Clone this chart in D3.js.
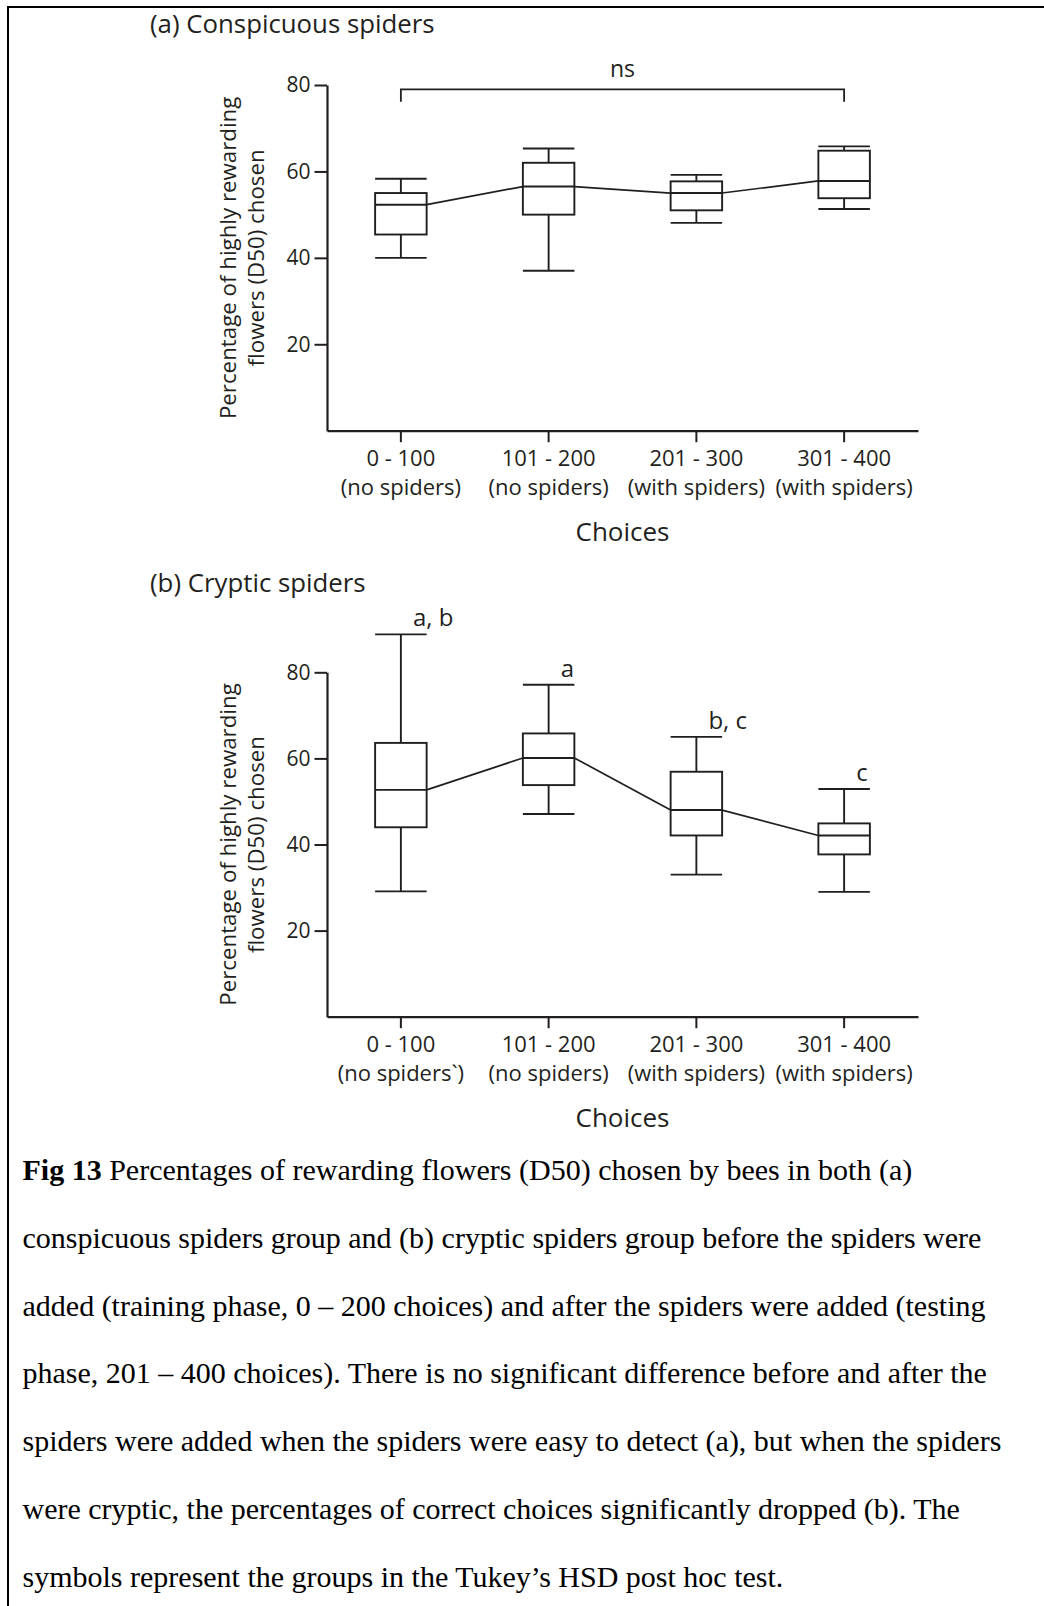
<!DOCTYPE html>
<html>
<head>
<meta charset="utf-8">
<script src="https://cdn.jsdelivr.net/npm/d3@7"></script>
<style>
  html, body { margin: 0; padding: 0; background: #fff; }
  svg { display: block; }
  .lbl { font-family: "Open Sans", "Noto Sans", sans-serif; fill: #231f20; }
  .cap { font-family: "Liberation Serif", "Times New Roman", serif; fill: #000; font-size: 30px; }
</style>
</head>
<body>
<svg id="fig" width="1044" height="1606"></svg>
<script>
// Choice blocks on the x axis
const categories = ["0 - 100", "101 - 200", "201 - 300", "301 - 400"];
const phaseLabelsA = ["(no spiders)", "(no spiders)", "(with spiders)", "(with spiders)"];
const phaseLabelsB = ["(no spiders`)", "(no spiders)", "(with spiders)", "(with spiders)"];
const yTicks = [20, 40, 60, 80];

// (a) Conspicuous spiders: box-plot summaries (% D50 chosen)
const consLow    = [40.0, 37.0, 48.1, 51.3];
const consQ1     = [45.4, 50.0, 51.0, 53.8];
const consMedian = [52.3, 56.5, 55.0, 57.8];
const consQ3     = [55.0, 62.0, 57.7, 64.8];
const consHigh   = [58.3, 65.3, 59.2, 65.8];

// (b) Cryptic spiders: box-plot summaries (% D50 chosen)
const crypLow    = [29.1, 47.1, 33.0, 29.0];
const crypQ1     = [44.0, 53.8, 42.1, 37.7];
const crypMedian = [52.7, 60.1, 48.0, 42.1];
const crypQ3     = [63.6, 65.8, 56.9, 44.9];
const crypHigh   = [88.8, 77.1, 65.0, 52.9];
const crypGroups = ["a, b", "a", "b, c", "c"];

// Figure caption, one entry per printed line
const captionLines = [
  "Percentages of rewarding flowers (D50) chosen by bees in both (a)",
  "conspicuous spiders group and (b) cryptic spiders group before the spiders were",
  "added (training phase, 0 \u2013 200 choices) and after the spiders were added (testing",
  "phase, 201 \u2013 400 choices). There is no significant difference before and after the",
  "spiders were added when the spiders were easy to detect (a), but when the spiders",
  "were cryptic, the percentages of correct choices significantly dropped (b). The",
  "symbols represent the groups in the Tukey\u2019s HSD post hoc test."
];

const svg = d3.select("#fig");
const ink = "#231f20";

// page frame (top and left rules)
svg.append("line").attr("x1", 7).attr("x2", 1044).attr("y1", 7).attr("y2", 7)
  .attr("stroke", "#000").attr("stroke-width", 2);
svg.append("line").attr("x1", 8).attr("x2", 8).attr("y1", 6).attr("y2", 1606)
  .attr("stroke", "#000").attr("stroke-width", 2);

function drawPanel(cfg) {
  const g = svg.append("g");
  const x = d3.scaleBand().domain(categories).range([327, 918]);
  const y = d3.scaleLinear().domain([0, 80]).range([cfg.bottom, cfg.top]);
  const cx = c => x(c) + x.bandwidth() / 2;
  const boxW = 51.5;

  // title
  g.append("text").attr("class", "lbl").attr("x", 150).attr("y", cfg.titleY)
    .attr("font-size", 25.8).text(cfg.title);

  // y axis
  const ya = g.append("g").attr("transform", "translate(327,0)")
    .call(d3.axisLeft(y).tickValues(yTicks).tickSize(12.5).tickPadding(4).tickSizeOuter(0));
  ya.select(".domain").attr("stroke", ink).attr("stroke-width", 2.2);
  ya.selectAll(".tick line").attr("stroke", ink).attr("stroke-width", 2);
  ya.selectAll(".tick text").attr("class", "lbl").attr("font-size", 21).attr("fill", ink);

  // x axis
  const xa = g.append("g").attr("transform", `translate(0,${cfg.bottom})`)
    .call(d3.axisBottom(x).tickSize(11.5).tickSizeOuter(0).tickFormat(""));
  xa.select(".domain").attr("stroke", ink).attr("stroke-width", 2.2);
  xa.selectAll(".tick line").attr("stroke", ink).attr("stroke-width", 2);

  // category labels (two lines)
  categories.forEach((c, i) => {
    g.append("text").attr("class", "lbl").attr("x", cx(c)).attr("y", cfg.bottom + 35)
      .attr("text-anchor", "middle").attr("font-size", 22).text(c);
    g.append("text").attr("class", "lbl").attr("x", cx(c)).attr("y", cfg.bottom + 64)
      .attr("text-anchor", "middle").attr("font-size", 22).text(cfg.phases[i]);
  });

  // x axis title
  g.append("text").attr("class", "lbl").attr("x", (327 + 918) / 2).attr("y", cfg.bottom + 110)
    .attr("text-anchor", "middle").attr("font-size", 26).text("Choices");

  // y axis title (two lines)
  const yc = y(40);
  g.append("text").attr("class", "lbl").attr("font-size", 22.3).attr("text-anchor", "middle")
    .attr("transform", `translate(236,${yc}) rotate(-90)`).text("Percentage of highly rewarding");
  g.append("text").attr("class", "lbl").attr("font-size", 22.3).attr("text-anchor", "middle")
    .attr("transform", `translate(264,${yc}) rotate(-90)`).text("flowers (D50) chosen");

  // line joining the medians, box edge to box edge
  const stroke = "#1f1f1f";
  for (let i = 0; i < categories.length - 1; i++) {
    g.append("line")
      .attr("x1", cx(categories[i]) + boxW / 2).attr("y1", y(cfg.median[i]))
      .attr("x2", cx(categories[i + 1]) - boxW / 2).attr("y2", y(cfg.median[i + 1]))
      .attr("stroke", stroke).attr("stroke-width", 1.7);
  }

  // boxes and whiskers
  categories.forEach((c, i) => {
    const xc = cx(c);
    const bg = g.append("g").attr("stroke", stroke).attr("stroke-width", 1.9).attr("fill", "none");
    bg.append("line").attr("x1", xc).attr("x2", xc).attr("y1", y(cfg.high[i])).attr("y2", y(cfg.q3[i]));
    bg.append("line").attr("x1", xc).attr("x2", xc).attr("y1", y(cfg.q1[i])).attr("y2", y(cfg.low[i]));
    bg.append("line").attr("x1", xc - boxW / 2).attr("x2", xc + boxW / 2)
      .attr("y1", y(cfg.high[i])).attr("y2", y(cfg.high[i]));
    bg.append("line").attr("x1", xc - boxW / 2).attr("x2", xc + boxW / 2)
      .attr("y1", y(cfg.low[i])).attr("y2", y(cfg.low[i]));
    bg.append("rect").attr("x", xc - boxW / 2).attr("width", boxW)
      .attr("y", y(cfg.q3[i])).attr("height", y(cfg.q1[i]) - y(cfg.q3[i]));
    bg.append("line").attr("x1", xc - boxW / 2).attr("x2", xc + boxW / 2)
      .attr("y1", y(cfg.median[i])).attr("y2", y(cfg.median[i]));

    if (cfg.groups) {
      g.append("text").attr("class", "lbl").attr("x", xc + 12).attr("y", y(cfg.high[i]) - 8)
        .attr("font-size", 24).text(cfg.groups[i]);
    }
  });

  // significance bracket
  if (cfg.bracket) {
    const x1 = cx(categories[0]), x2 = cx(categories[categories.length - 1]);
    g.append("path")
      .attr("d", `M${x1},${y(76.1)}V${y(79)}H${x2}V${y(76.1)}`)
      .attr("fill", "none").attr("stroke", stroke).attr("stroke-width", 1.8);
    g.append("text").attr("class", "lbl").attr("x", (x1 + x2) / 2).attr("y", y(80) - 8)
      .attr("text-anchor", "middle").attr("font-size", 23).text(cfg.bracket);
  }
}

drawPanel({
  title: "(a) Conspicuous spiders", titleY: 33,
  top: 85, bottom: 430.7, phases: phaseLabelsA,
  low: consLow, q1: consQ1, median: consMedian, q3: consQ3, high: consHigh,
  bracket: "ns"
});

drawPanel({
  title: "(b) Cryptic spiders", titleY: 592,
  top: 672.3, bottom: 1016.7, phases: phaseLabelsB,
  low: crypLow, q1: crypQ1, median: crypMedian, q3: crypQ3, high: crypHigh,
  groups: crypGroups
});

// caption
const capG = svg.append("g");
captionLines.forEach((t, i) => {
  const tx = capG.append("text").attr("class", "cap").attr("x", 22.5).attr("y", 1180 + i * 67.8);
  if (i === 0) {
    tx.append("tspan").attr("font-weight", "bold").text("Fig 13");
    tx.append("tspan").text(" " + t);
  } else {
    tx.text(t);
  }
});
</script>
</body>
</html>
